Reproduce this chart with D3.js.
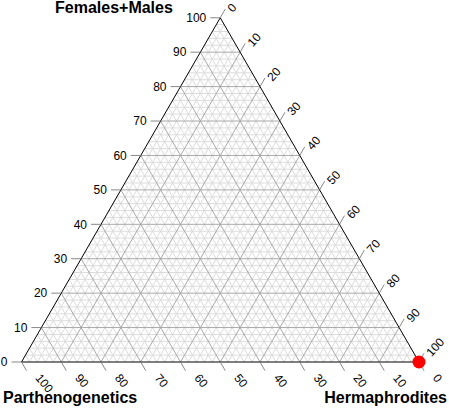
<!DOCTYPE html>
<meta charset="utf-8">
<head>
  <title>Ternary plot</title>
  <script src="https://d3js.org/d3.v7.min.js"></script>
  <style>
    body { margin: 0; background: #fff; }
    svg { display: block; }
    .tick text { font: 12px "Liberation Sans", Arial, sans-serif; fill: #000; }
    .title { font: bold 16px "Liberation Sans", Arial, sans-serif; fill: #000; }
  </style>
</head>
<body>
  <svg width="449" height="409"></svg>
  <script>
    // data
    const axisNames = ["Parthenogenetics", "Hermaphrodites", "Females+Males"];
    const ticks = [0, 10, 20, 30, 40, 50, 60, 70, 80, 90, 100];
    const parthenogenetics = [0];
    const hermaphrodites = [100];
    const femalesMales = [0];

    const svg = d3.select("svg");

    // triangle corners: left = Parthenogenetics, right = Hermaphrodites, top = Females+Males
    const L = [21.5, 362], R = [419, 362];
    const side = R[0] - L[0];
    const T = [(L[0] + R[0]) / 2, L[1] - side * Math.sqrt(3) / 2];

    const frac = d3.scaleLinear().domain([0, 100]).range([0, 1]);

    function pos(p, h, f) {
      const s = p + h + f;
      const a = p / s, b = h / s, c = f / s;
      return [a * L[0] + b * R[0] + c * T[0], a * L[1] + b * R[1] + c * T[1]];
    }
    function lerp(A, B, t) { return [A[0] + (B[0] - A[0]) * t, A[1] + (B[1] - A[1]) * t]; }

    const grid = svg.append("g");
    function gridLines(values, color, width) {
      values.forEach(function(v) {
        const t = frac(v);
        if (t <= 0 || t >= 1) return;
        // constant Females+Males: horizontal
        const segs = [
          [lerp(L, T, t), lerp(R, T, t)],
          // constant Hermaphrodites: parallel to left edge
          [lerp(L, R, t), lerp(T, R, t)],
          // constant Parthenogenetics: parallel to right edge
          [lerp(R, L, t), lerp(T, L, t)]
        ];
        segs.forEach(function(s) {
          grid.append("line")
            .attr("x1", s[0][0]).attr("y1", s[0][1])
            .attr("x2", s[1][0]).attr("y2", s[1][1])
            .attr("stroke", color).attr("stroke-width", width);
        });
      });
    }
    gridLines(d3.range(2, 100, 2).filter(function(v) { return v % 10 !== 0; }), "#dcdcdc", 1);
    gridLines(ticks, "#a8a8a8", 1);

    svg.append("path")
      .attr("d", d3.line()([L, R, T, L]))
      .attr("fill", "none").attr("stroke", "#000").attr("stroke-width", 1);

    const tk = svg.append("g").attr("class", "tick");
    const c60 = 0.5, s60 = Math.sqrt(3) / 2;
    ticks.forEach(function(v) {
      const t = frac(v);
      // left axis: Females+Males
      const pl = lerp(L, T, t);
      tk.append("line").attr("x1", pl[0]).attr("y1", pl[1]).attr("x2", pl[0] - 10).attr("y2", pl[1])
        .attr("stroke", "#888");
      tk.append("text").attr("x", pl[0] - 14).attr("y", pl[1]).attr("dy", "0.35em")
        .attr("text-anchor", "end").text(v);
      // right axis: Hermaphrodites
      const pr = lerp(T, R, t);
      tk.append("line").attr("x1", pr[0]).attr("y1", pr[1]).attr("x2", pr[0] + 10 * c60).attr("y2", pr[1] - 10 * s60)
        .attr("stroke", "#888");
      const ar = [pr[0] + 9.5, pr[1] - 7.5];
      tk.append("text").attr("transform", "translate(" + ar + ") rotate(-48)")
        .attr("dy", "0.35em").text(v);
      // bottom axis: Parthenogenetics
      const pb = lerp(R, L, t);
      tk.append("line").attr("x1", pb[0]).attr("y1", pb[1]).attr("x2", pb[0] + 10 * c60).attr("y2", pb[1] + 10 * s60)
        .attr("stroke", "#888");
      const ab = [pb[0] + 16.5, pb[1] + 13.5];
      tk.append("text").attr("transform", "translate(" + ab + ") rotate(50)")
        .attr("dy", "0.35em").text(v);
    });

    svg.append("text").attr("class", "title").attr("x", 55).attr("y", 13).text(axisNames[2]);
    svg.append("text").attr("class", "title").attr("x", 3).attr("y", 403).text(axisNames[0]);
    svg.append("text").attr("class", "title").attr("x", 447).attr("y", 403).attr("text-anchor", "end").text(axisNames[1]);

    const pts = parthenogenetics.map(function(p, i) { return pos(p, hermaphrodites[i], femalesMales[i]); });
    svg.append("g").selectAll("circle").data(pts).enter().append("circle")
      .attr("cx", function(d) { return d[0]; })
      .attr("cy", function(d) { return d[1]; })
      .attr("r", 6.5)
      .attr("fill", "#ff0000");
  </script>
</body>
